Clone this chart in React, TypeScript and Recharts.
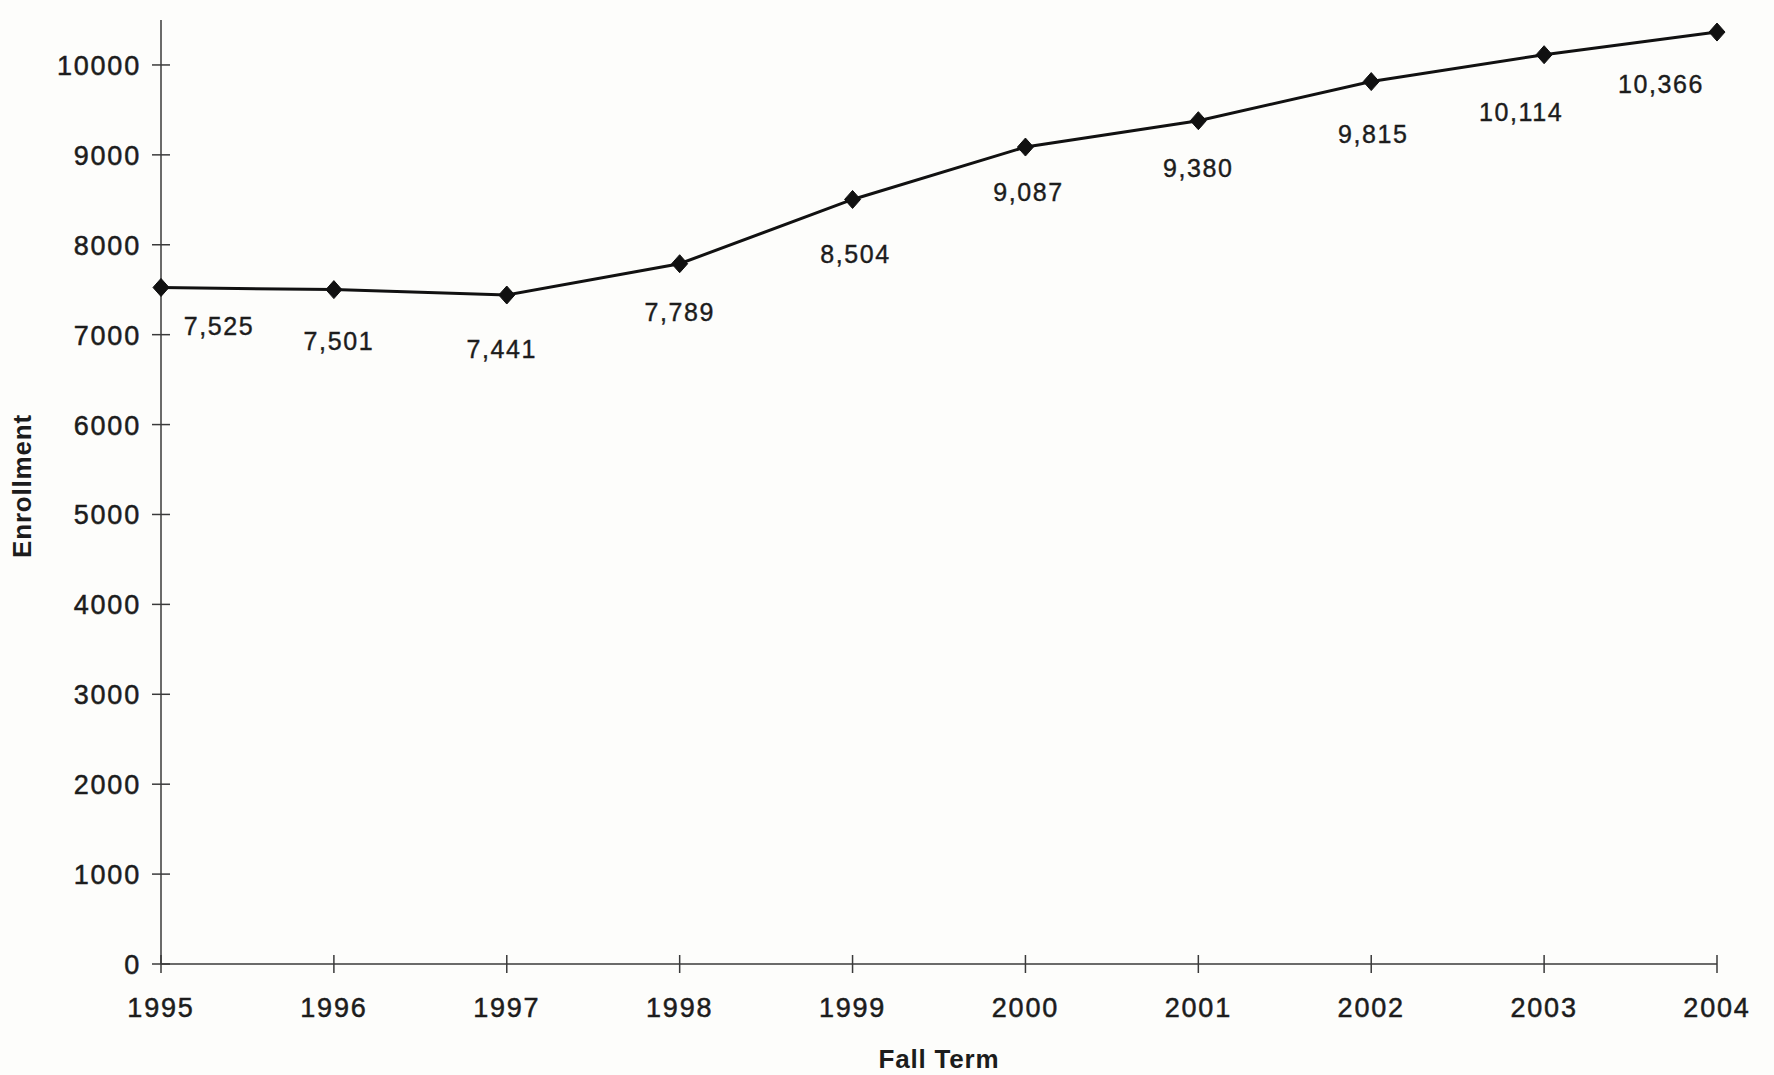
import React from 'react';
import { LineChart, Line, XAxis, YAxis, LabelList } from 'recharts';

const years = ['1995', '1996', '1997', '1998', '1999', '2000', '2001', '2002', '2003', '2004'];
const enrollment = [7525, 7501, 7441, 7789, 8504, 9087, 9380, 9815, 10114, 10366];
const yTicks = [0, 1000, 2000, 3000, 4000, 5000, 6000, 7000, 8000, 9000, 10000];

const data = years.map((year, i) => ({ year, enrollment: enrollment[i] }));

const FONT = '"Liberation Sans", Arial, Helvetica, sans-serif';
const INK = '#1c1c1c';

// label placement relative to each point (style only)
const labelDx = [58, 5, -5, 0, 3, 3, 0, 2, -23, -56];
const labelDy = [48, 60, 63, 57, 64, 54, 56, 61, 66, 61];

const XTick = (props: any) => {
  const { x, y, payload } = props;
  return (
    <g>
      <line x1={x} x2={x} y1={y - 9} y2={y + 9} stroke="#3a3a3a" strokeWidth={1.5} />
      <text x={x} y={y + 53} textAnchor="middle" fontFamily={FONT} fontSize={27} letterSpacing={1.8} fill={INK} stroke={INK} strokeWidth={0.5}>
        {payload.value}
      </text>
    </g>
  );
};

const YTick = (props: any) => {
  const { x, y, payload } = props;
  return (
    <g>
      <line x1={x - 9} x2={x + 9} y1={y} y2={y} stroke="#3a3a3a" strokeWidth={1.5} />
      <text x={x - 20} y={y + 10} textAnchor="end" fontFamily={FONT} fontSize={27} letterSpacing={1.8} fill={INK} stroke={INK} strokeWidth={0.5}>
        {payload.value}
      </text>
    </g>
  );
};

const Diamond = (props: any) => {
  const { cx, cy, index } = props;
  if (cx == null || cy == null) return <g key={index} />;
  return (
    <path
      key={index}
      d={`M${cx},${cy - 9} L${cx + 8},${cy} L${cx},${cy + 9} L${cx - 8},${cy} Z`}
      fill="#111"
      stroke="#111"
      strokeWidth={1}
    />
  );
};

const ValueLabel = (props: any) => {
  const { x, y, value, index } = props;
  return (
    <text
      x={x + labelDx[index]}
      y={y + labelDy[index]}
      textAnchor="middle"
      fontFamily={FONT}
      fontSize={25}
      letterSpacing={1.6}
      fill={INK}
      stroke={INK}
      strokeWidth={0.4}
    >
      {Number(value).toLocaleString('en-US')}
    </text>
  );
};

export default function App() {
  return (
    <div style={{ width: 1774, height: 1075, background: '#fdfdfb' }}>
      <style>{`body{margin:0;background:#fdfdfb;}`}</style>
      <LineChart
        width={1774}
        height={1075}
        data={data}
        margin={{ top: 20, right: 57, bottom: 0, left: 0 }}
      >
        <XAxis
          dataKey="year"
          height={111}
          tickSize={0}
          tickMargin={0}
          tickLine={false}
          axisLine={{ stroke: '#3a3a3a', strokeWidth: 1.5 }}
          tick={<XTick />}
          interval={0}
          label={{
            content: (p: any) => {
              const vb = p.viewBox;
              return (
                <text
                  x={vb.x + vb.width / 2}
                  y={vb.y + 104}
                  textAnchor="middle"
                  fontFamily={FONT}
                  fontWeight="bold"
                  fontSize={26}
                  letterSpacing={0.8}
                  fill={INK}
                >
                  Fall Term
                </text>
              );
            },
          }}
        />
        <YAxis
          width={161}
          domain={[0, 10500]}
          ticks={yTicks}
          tickSize={0}
          tickMargin={0}
          tickLine={false}
          axisLine={{ stroke: '#3a3a3a', strokeWidth: 1.5 }}
          tick={<YTick />}
          interval={0}
          label={{
            content: (p: any) => {
              const vb = p.viewBox;
              const cx = 31;
              const cy = vb.y + vb.height / 2 - 6;
              return (
                <text
                  x={cx}
                  y={cy}
                  textAnchor="middle"
                  transform={`rotate(-90, ${cx}, ${cy})`}
                  fontFamily={FONT}
                  fontWeight="bold"
                  fontSize={26}
                  letterSpacing={0.8}
                  fill={INK}
                >
                  Enrollment
                </text>
              );
            },
          }}
        />
        <Line
          type="linear"
          dataKey="enrollment"
          stroke="#111"
          strokeWidth={3}
          dot={<Diamond />}
          activeDot={false}
          isAnimationActive={false}
        >
          <LabelList dataKey="enrollment" content={<ValueLabel />} />
        </Line>
      </LineChart>
    </div>
  );
}
